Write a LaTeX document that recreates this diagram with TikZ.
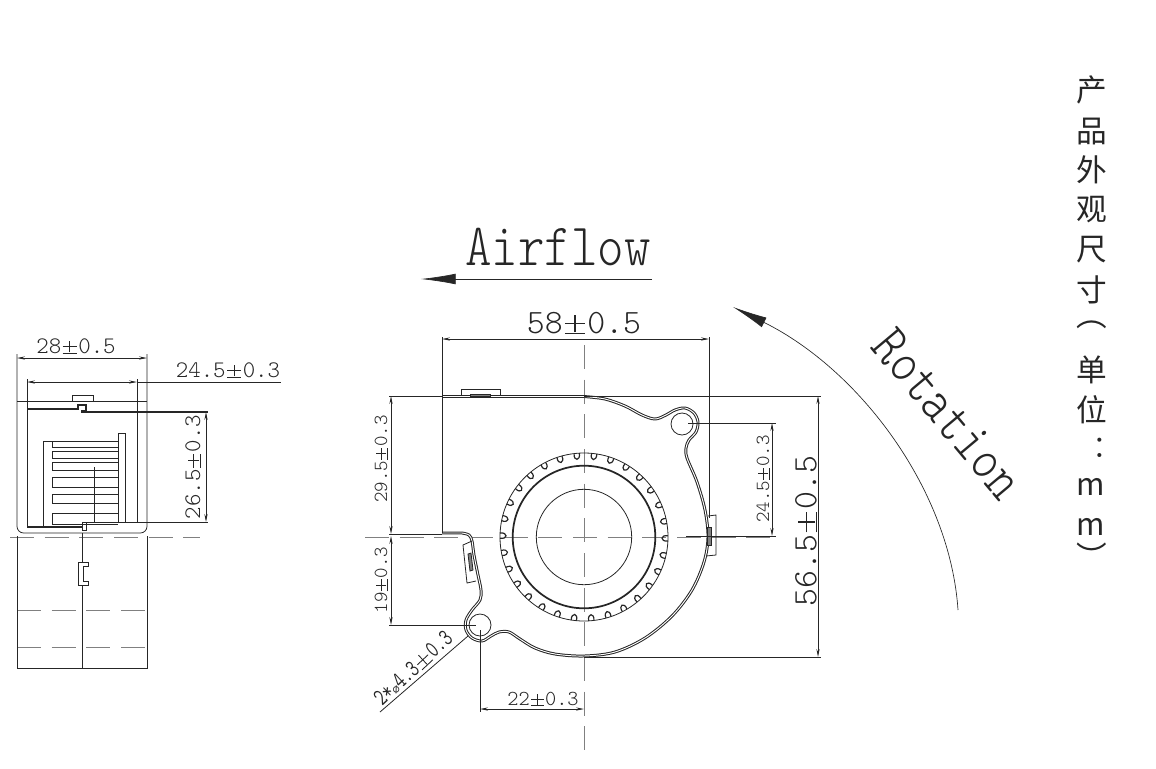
\documentclass[tikz,border=0pt]{standalone}
\usepackage{fontspec}
\usetikzlibrary{arrows.meta,positioning}
\newfontfamily\cjkfont{Noto Sans CJK SC}
\newfontfamily\dejafont{DejaVu Sans}
\newfontfamily\dimfont{Latin Modern Mono Light}
\newfontfamily\flowfont[FakeStretch=.84]{Latin Modern Mono Light}
\newfontfamily\holefont[FakeStretch=.72]{Latin Modern Mono}
\newcommand{\dimsize}[1]{\fontsize{#1}{#1}\dimfont}
\newcommand{\plusminus}{\makebox[.72em]{\rlap{\rule[-.02em]{.6em}{.035em}}\rlap{\rule[.26em]{.6em}{.035em}}\hspace{.2825em}\rule[.03em]{.035em}{.5em}\hspace{.2825em}}}
\definecolor{inkline}{gray}{0.15}
\begin{document}
\begin{tikzpicture}[
  x=0.75pt,
  y=-0.75pt,
  every node/.style={text=inkline, inner sep=0pt},
  thinline/.style={draw=inkline, line width=0.6pt},
  fanline/.style={draw=inkline, line width=0.9pt},
  boldline/.style={draw=inkline, line width=1.3pt},
  shellline/.style={draw=inkline, line width=0.75pt, double, double distance=0.7pt},
  centerline/.style={draw=gray, line width=0.5pt, dash pattern=on 18pt off 8pt},
  dimline/.style={
    thinline,
    {Stealth[length=6pt,width=2.4pt]}-{Stealth[length=6pt,width=2.4pt]}
  },
  flowarrow/.style={
    draw=inkline,
    line width=0.5pt,
    -{Latex[length=26pt,width=8pt]}
  }
]
\useasboundingbox (0,0) rectangle (1156,768);

% center lines
\draw[centerline] (365,537) -- (778,537);
\draw[centerline] (584,345) -- (584,758);
\draw[centerline] (10,537) -- (200,537);
\draw[centerline] (17,610) -- (147,610);
\draw[centerline] (17,647) -- (147,647);

% side view
\draw[thinline, rounded corners=5pt] (17,354) -- (17,533) -- (147,533) -- (147,354);
\draw[thinline] (17,401) -- (147,401);
\draw[thinline] (17,536) -- (17,668) -- (147,668) -- (147,536);
\draw[thinline] (82,533) -- (82,562) (82,585) -- (82,668);
\draw[thinline] (82,562) -- (88,562) -- (88,566) -- (83,566) -- (83,581) -- (88,581) -- (88,585) -- (78,585) -- (78,562) -- (82,562);
\draw[thinline] (72,401) -- (72,395) -- (93,395) -- (93,401);
\draw[thinline] (27,379) -- (27,527);
\draw[thinline] (137,379) -- (137,522);
\draw[fanline] (27,409) -- (78,409) -- (78,405) -- (86,405) -- (86,411) -- (82,411) -- (82,412) -- (208,412);
\draw[fanline] (27,527) -- (82,527);
\draw[thinline] (82,527) -- (82,530) -- (86,530) -- (86,522) -- (82,522) -- (82,527);
\draw[thinline] (86,522) -- (208,522);
\draw[thinline] (43,527) -- (43,441) -- (118,441);
\draw[thinline] (118,522) -- (118,433) -- (125,433) -- (125,522);
\foreach \ytop/\ybot in {441/447, 451/458, 462/470, 477/487, 494/503, 513/524}
    \draw[thinline] (118,\ytop) -- (52,\ytop) -- (52,\ybot) -- (118,\ybot);
\draw[thinline] (94.5,467) -- (94.5,522);

\draw[dimline] (17,358) -- (147,358);
\draw[dimline] (27,382) -- (137,382);
\draw[thinline] (137,382) -- (281,382);
\draw[dimline] (206,412) -- (206,522);
\node (sidewidth) at (76,346) {\dimsize{17.8}28\plusminus0.5};
\node (sideinner) at (228,370) {\dimsize{17.8}24.5\plusminus0.3};
\node[rotate=90] (sideheight) at (193,467) {\dimsize{17.8}26.5\plusminus0.3};

% fan housing
\draw[shellline] (442,533) -- (462,533)
  plot[smooth, tension=0.55] coordinates {
    (462,533) (469,535) (472,541) (474,555) (478,575) (481,590) (480,600)
    (472,610) (466,620) (466,630) (472,638) (482,641) (491,636) (499,632)
    (509,632) (520,639) (535,648) (555,654) (584,656) (615,652) (645,638)
    (672,616) (692,590) (704,562) (708,537) (705,510) (697,482) (687,458)
    (686,448) (689,440) (696,432) (698,422) (694,413) (685,408) (675,410)
    (666,415) (655,419) (642,415) (625,406) (605,399) (584,396.5)}
  -- (442,396.5);
\draw[thinline] (480,625) circle[radius=11];
\draw[thinline] (682,424) circle[radius=11];

% tabs
\draw[thinline] (461,396) -- (461,389) -- (500,389) -- (500,396);
\draw[thinline, fill=gray] (470,394.5) rectangle (490,396);
\draw[thinline] (708,516) -- (716,515) -- (716,555) -- (706,556);
\draw[thinline, fill=gray] (707,527) rectangle (711,545);
\draw[thinline] (472,541) -- (463,545) -- (467,583) -- (476,581);
\draw[thinline, fill=gray] (468,554) -- (471,553) -- (473,570) -- (470,571) -- cycle;

% impeller
\draw[thinline] (584,537) circle[radius=84];
\draw[boldline] (584,537) circle[radius=71.3];
\draw[thinline] (584,537) circle[radius=47.7];
\foreach \a in {0, ..., 29}
    \draw[fanline, shift={(584,537)}, rotate=95+12*\a]
      (84,-2.6) .. controls (76,-4) and (76,3.5) .. (84,2.6);

% dimensions
\draw[thinline] (442,337) -- (442,533);
\draw[thinline] (709,337) -- (709,518);
\draw[dimline] (442,339) -- (709,339);
\node (fanwidth) at (584,323) {\dimsize{25.6}58\plusminus0.5};

\draw[thinline] (584,396) -- (821,396);
\draw[thinline] (584,657) -- (821,657);
\draw[dimline] (818,396) -- (818,657);
\node[rotate=90] (fanheight) at (806,531) {\dimsize{25.6}56.5\plusminus0.5};

\draw[thinline] (688,423) -- (776,423);
\draw[thinline] (686,536) -- (776,536);
\draw[dimline] (772,423) -- (772,536);
\node[rotate=90] (holeright) at (763,479) {\dimsize{15}24.5\plusminus0.3};

\draw[thinline] (389,396) -- (442,396);
\draw[thinline] (389,534) -- (442,534);
\draw[dimline] (391,396) -- (391,534);
\node[rotate=90] (upperleft) at (381,459) {\dimsize{15}29.5\plusminus0.3};

\draw[thinline] (389,625) -- (476,625);
\draw[dimline] (391,536) -- (391,625);
\node[rotate=90] (lowerleft) at (381,580) {\dimsize{15}19\plusminus0.3};

\draw[thinline] (480,630) -- (480,712);
\draw[dimline] (480,709) -- (584,709);
\node (holedist) at (543,699) {\dimsize{16}22\plusminus0.3};

\coordinate (holeend) at (380,712);
\coordinate (holetip) at (468,636);
\draw[thinline] (holeend) -- (holetip);
\node[rotate=43] (holesize) at (413,668) {\fontsize{18.5}{18.5}\holefont 2*{\dejafont\fontsize{9}{9}\selectfont ⌀}4.3\plusminus0.3};

% airflow and rotation
\coordinate (flowstart) at (652,279);
\coordinate (flowend) at (421,279);
\draw[flowarrow] (flowstart) -- (flowend);
\node (airflow) at (558,247) {\fontsize{45}{45}\flowfont Airflow};

\coordinate (rotstart) at (958,610);
\coordinate (rotend) at (733,307);
\draw[flowarrow] (rotstart) .. controls (950,490) and (860,370) .. (rotend);
\node[rotate=-50] (rotation) at (948,414) {\fontsize{43}{43}\flowfont Rotation};

% side caption
\foreach \ch/\ypos/\nm in {产/90/a, 品/132/b, 外/170/c, 观/210/d, 尺/250/e, 寸/290/f, 单/370/g, 位/410/h}
    \node (cap\nm) at (1092,\ypos) {\fontsize{23}{23}\cjkfont \ch};
\node (capopen) at (1092,325) {\fontsize{23}{23}\cjkfont ︵};
\node (capdots) at (1100,449) {\fontsize{23}{23}\cjkfont ︰};
\node (capm) at (1091,487) {\fontsize{23}{23}\cjkfont m};
\node (capmm) at (1091,527) {\fontsize{23}{23}\cjkfont m};
\node (capclose) at (1092,556) {\fontsize{23}{23}\cjkfont ︶};
\end{tikzpicture}
\end{document}
